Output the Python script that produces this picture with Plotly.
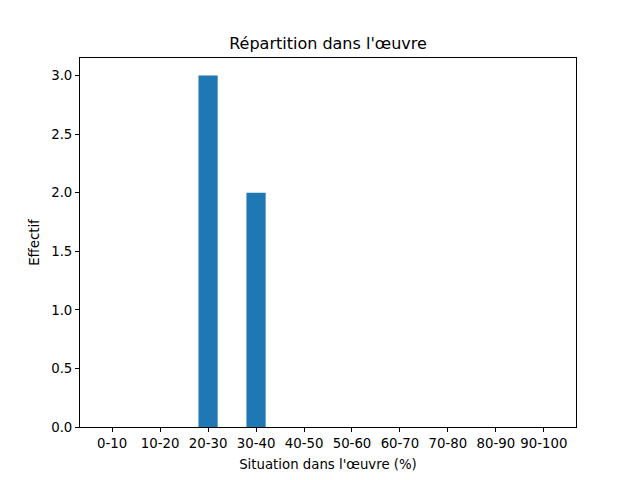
import plotly.graph_objects as go

# Tranches de la situation dans l'oeuvre et effectifs
tranches = ["0-10", "10-20", "20-30", "30-40", "40-50",
            "50-60", "60-70", "70-80", "80-90", "90-100"]
effectifs = [0, 0, 3, 2, 0, 0, 0, 0, 0, 0]
y_ticks = [0.0, 0.5, 1.0, 1.5, 2.0, 2.5, 3.0]

positions = list(range(len(tranches)))

fig = go.Figure(
    go.Bar(
        x=positions,
        y=effectifs,
        width=0.4,
        marker=dict(color="#1f77b4", line=dict(width=0)),
    )
)

axis_common = dict(
    showline=True,
    linecolor="black",
    linewidth=1,
    mirror=True,
    ticks="outside",
    ticklen=4,
    tickwidth=1,
    tickcolor="black",
    showgrid=False,
    zeroline=False,
    tickfont=dict(size=13.3, color="black"),
)

# la page a une marge de 8 px, on compense
fig.update_layout(
    width=640,
    height=480,
    margin=dict(l=72, r=72, t=50, b=61),
    paper_bgcolor="white",
    plot_bgcolor="white",
    font=dict(family="DejaVu Sans", color="black"),
    showlegend=False,
    title=dict(
        text="Répartition dans l'œuvre",
        x=(72 + 248) / 640,
        xanchor="center",
        y=1 - 35 / 480,
        yanchor="middle",
        font=dict(size=16, color="black"),
    ),
    xaxis=dict(
        axis_common,
        range=[-0.67, 9.67],
        tickmode="array",
        tickvals=positions,
        ticktext=tranches,
        title=dict(text="Situation dans l'œuvre (%)", font=dict(size=13.3), standoff=9),
    ),
    yaxis=dict(
        axis_common,
        range=[0, 3.15],
        tickmode="array",
        tickvals=y_ticks,
        ticktext=[f"{v:.1f}" for v in y_ticks],
        title=dict(text="Effectif", font=dict(size=13.3), standoff=8),
    ),
)

fig.write_html("out.html")
